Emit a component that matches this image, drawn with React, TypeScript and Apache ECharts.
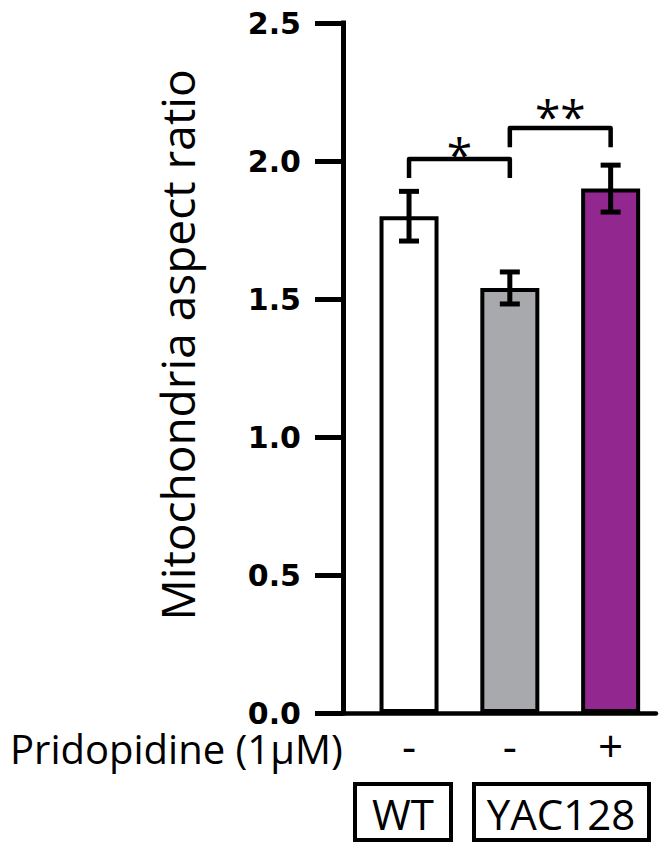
import React, { useEffect, useRef } from "react";
import * as echarts from "echarts";

// ---- data ----
const treatments = ["-", "-", "+"];
const groups = ["WT", "YAC128", "YAC128"];
const means = [1.8, 1.54, 1.9];
const errors = [0.09, 0.058, 0.085];
const barColors = ["#ffffff", "#a7a9ac", "#92278f"];
const yTicks = [0, 0.5, 1.0, 1.5, 2.0, 2.5];

const bracketFrom = [0, 1];
const bracketTo = [1, 2];
const bracketTop = [2.007, 2.12];
const bracketLeg = [1.938, 2.05];
const bracketLabelY = [2.063, 2.199];
const bracketLabel = ["*", "**"];

const FONT = "'Open Sans', 'Noto Sans', sans-serif";

export default function App() {
  const ref = useRef<HTMLDivElement>(null);
  useEffect(() => {
    if (!ref.current) return;
    const chart = echarts.init(ref.current, undefined, { renderer: "svg" });

    const errData = means.map((m, i) => [i, m - errors[i], m + errors[i]]);
    const brData = bracketFrom.map((f, i) => [
      f,
      bracketTo[i],
      bracketTop[i],
      bracketLeg[i],
      bracketLabelY[i],
    ]);

    const option: any = {
      animation: false,
      backgroundColor: "#ffffff",
      grid: { left: 343, right: 3, top: 23, bottom: 132, containLabel: false },
      xAxis: {
        type: "value",
        min: -0.655,
        max: 2.45,
        splitLine: { show: false },
        axisTick: { show: false },
        axisLabel: { show: false },
        axisLine: { show: true, onZero: false, lineStyle: { color: "#000", width: 4.5 } },
      },
      yAxis: {
        type: "value",
        min: 0,
        max: 2.5,
        interval: 0.5,
        name: "Mitochondria aspect ratio",
        nameLocation: "middle",
        nameRotate: 90,
        nameGap: 143,
        nameTextStyle: { fontFamily: FONT, fontSize: 46, color: "#000", padding: [0, 0, 0, 46] },
        splitLine: { show: false },
        axisLine: { show: true, onZero: false, lineStyle: { color: "#000", width: 5, cap: "square" } },
        axisTick: { show: true, length: 28, lineStyle: { color: "#000", width: 5 } },
        axisLabel: {
          margin: 42,
          fontFamily: "'DejaVu Sans', sans-serif",
          fontWeight: "bold",
          fontSize: 30,
          lineHeight: 22,
          color: "#000",
          padding: [0, 0, 12, 0],
          formatter: (v: number) => {
            const t = yTicks.find((x) => Math.abs(x - v) < 1e-6);
            return t === undefined ? "" : t.toFixed(1);
          },
        },
      },
      series: [
        {
          type: "bar",
          barWidth: 59,
          data: means.map((m, i) => ({
            value: [i, m],
            itemStyle: { color: barColors[i], borderColor: "#000", borderWidth: 4 },
          })),
          label: {
            show: true,
            position: "bottom",
            distance: 10,
            fontFamily: FONT,
            fontSize: 44,
            color: "#000",
            formatter: (p: any) => treatments[p.dataIndex],
          },
          z: 2,
        },
        {
          type: "custom",
          data: errData,
          z: 3,
          renderItem: (params: any, api: any) => {
            const x = api.value(0);
            const lo = api.coord([x, api.value(1)]);
            const hi = api.coord([x, api.value(2)]);
            const hw = 10;
            const style = { stroke: "#000", lineWidth: 5, fill: "none" };
            return {
              type: "group",
              children: [
                { type: "line", shape: { x1: lo[0], y1: lo[1], x2: hi[0], y2: hi[1] }, style },
                { type: "line", shape: { x1: hi[0] - hw, y1: hi[1], x2: hi[0] + hw, y2: hi[1] }, style },
                { type: "line", shape: { x1: lo[0] - hw, y1: lo[1], x2: lo[0] + hw, y2: lo[1] }, style },
              ],
            };
          },
        },
        {
          type: "custom",
          data: brData,
          z: 3,
          renderItem: (params: any, api: any) => {
            const i = params.dataIndex;
            const a = api.coord([api.value(0), api.value(3)]);
            const b = api.coord([api.value(0), api.value(2)]);
            const c = api.coord([api.value(1), api.value(2)]);
            const d = api.coord([api.value(1), api.value(3)]);
            const t = api.coord([(api.value(0) + api.value(1)) / 2, api.value(4)]);
            return {
              type: "group",
              children: [
                {
                  type: "polyline",
                  shape: { points: [a, b, c, d] },
                  style: { stroke: "#000", lineWidth: 4.5, fill: "none", lineJoin: "round" },
                },
                {
                  type: "text",
                  x: t[0],
                  y: t[1] + 10,
                  style: {
                    text: bracketLabel[i],
                    fontFamily: FONT,
                    fontSize: 46,
                    fill: "#000",
                    align: "center",
                    verticalAlign: "middle",
                  },
                },
              ],
            };
          },
        },
      ],
      graphic: [
        {
          type: "text",
          x: 10,
          y: 748,
          style: {
            text: "Pridopidine (1µM)",
            fontFamily: FONT,
            fontSize: 40,
            lineHeight: 28,
            fill: "#000",
            verticalAlign: "middle",
          },
        },
        {
          type: "group",
          children: [
            {
              type: "rect",
              shape: { x: 355, y: 784, width: 96, height: 56 },
              style: { fill: "#fff", stroke: "#000", lineWidth: 4 },
            },
            {
              type: "text",
              x: 403,
              y: 813,
              style: { text: groups[0], fontFamily: FONT, fontSize: 42, fill: "#000", align: "center", verticalAlign: "middle" },
            },
            {
              type: "rect",
              shape: { x: 474, y: 784, width: 175, height: 56 },
              style: { fill: "#fff", stroke: "#000", lineWidth: 4 },
            },
            {
              type: "text",
              x: 561,
              y: 813,
              style: { text: groups[1], fontFamily: FONT, fontSize: 42, fill: "#000", align: "center", verticalAlign: "middle" },
            },
          ],
        },
      ],
    };
    chart.setOption(option);
    return () => chart.dispose();
  }, []);

  return (
    <div
      ref={ref}
      style={{ position: "fixed", left: 0, top: 0, width: 659, height: 845, background: "#fff" }}
    />
  );
}
